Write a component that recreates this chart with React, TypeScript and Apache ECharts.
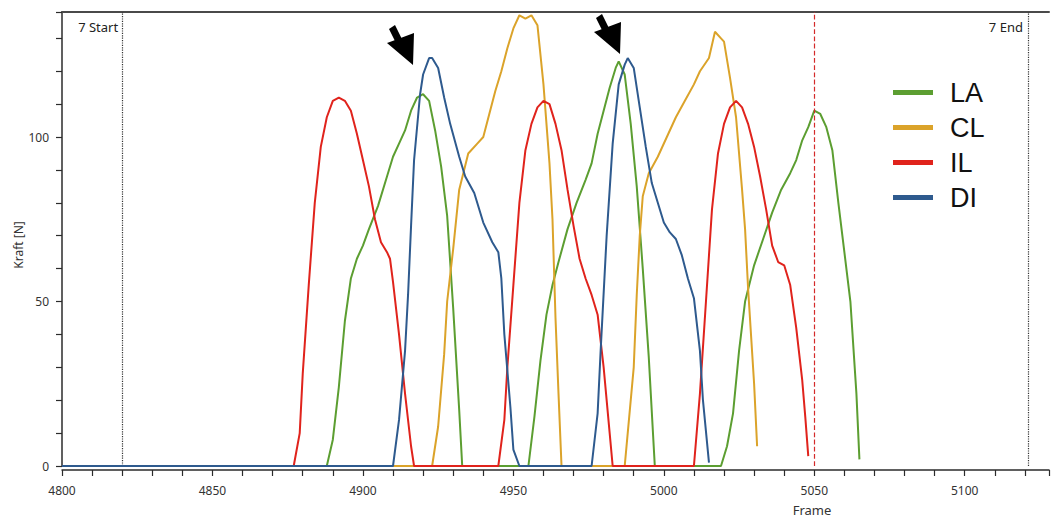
import React, { useEffect, useRef } from "react";
import * as echarts from "echarts";

const SERIES_NAMES = ["LA", "CL", "IL", "DI"];
const SERIES_COLORS = ["#5c9e31", "#dba32a", "#e0231c", "#2e5a8e"];

const LA: number[][] = [
  [4800, 0], [4888, 0], [4890, 8], [4892, 24], [4894, 44], [4896, 57], [4898, 63], [4900, 67], [4902, 72],
  [4905, 79], [4908, 88], [4910, 94], [4912, 98], [4914, 102], [4916, 108], [4918, 112], [4920, 113],
  [4922, 111], [4924, 102], [4926, 91], [4928, 76], [4930, 48], [4932, 17], [4933, 0],
  [4955, 0], [4957, 15], [4959, 32], [4961, 46], [4963, 55], [4965, 62], [4968, 72], [4971, 80], [4974, 87],
  [4976, 92], [4978, 101], [4980, 108], [4982, 115], [4984, 121], [4985, 123], [4987, 119], [4989, 104],
  [4991, 85], [4993, 60], [4995, 33], [4997, 0],
  [5019, 0], [5021, 6], [5023, 16], [5025, 35], [5027, 50], [5030, 61], [5033, 69], [5036, 77], [5039, 84],
  [5042, 89], [5044, 93], [5046, 99], [5048, 103], [5050, 108], [5052, 107], [5054, 103], [5056, 96],
  [5058, 80], [5060, 65], [5062, 50], [5064, 22], [5065, 2],
];

const CL: number[][] = [
  [4800, 0], [4923, 0], [4925, 12], [4927, 34], [4928, 50], [4930, 66], [4932, 84], [4935, 95], [4938, 98],
  [4940, 100], [4942, 107], [4944, 114], [4946, 120], [4948, 127], [4950, 133], [4952, 137], [4954, 136],
  [4956, 137], [4958, 134], [4960, 116], [4962, 92], [4963, 75], [4964, 45], [4965, 22], [4966, 0],
  [4987, 0], [4988, 10], [4990, 30], [4991, 52], [4992, 70], [4993, 82], [4995, 89], [4998, 94], [5001, 100],
  [5004, 106], [5007, 111], [5010, 116], [5012, 120], [5015, 124], [5017, 132], [5019, 130], [5020, 129],
  [5022, 118], [5024, 106], [5026, 84], [5027, 72], [5028, 54], [5030, 25], [5031, 6],
];

const IL: number[][] = [
  [4800, 0], [4877, 0], [4879, 10], [4880, 28], [4882, 55], [4884, 80], [4886, 97], [4888, 106], [4890, 111],
  [4892, 112], [4894, 111], [4896, 108], [4898, 101], [4900, 93], [4902, 85], [4904, 75], [4906, 68],
  [4908, 65], [4909, 63], [4910, 56], [4912, 40], [4914, 22], [4916, 6], [4917, 0],
  [4945, 0], [4947, 14], [4948, 30], [4950, 55], [4952, 80], [4954, 96], [4956, 104], [4958, 109], [4960, 111],
  [4962, 110], [4964, 104], [4966, 96], [4968, 84], [4970, 73], [4972, 63], [4974, 57], [4976, 52],
  [4978, 46], [4980, 30], [4982, 10], [4983, 0],
  [5010, 0], [5012, 22], [5014, 50], [5016, 78], [5018, 95], [5020, 104], [5022, 109], [5024, 111],
  [5026, 109], [5028, 104], [5030, 97], [5032, 88], [5034, 78], [5036, 67], [5038, 62], [5040, 61],
  [5042, 55], [5044, 42], [5046, 26], [5047, 15], [5048, 3],
];

const DI: number[][] = [
  [4800, 0], [4910, 0], [4912, 14], [4914, 35], [4915, 52], [4916, 73], [4917, 93], [4919, 113], [4920, 119],
  [4922, 124], [4923, 124], [4925, 121], [4927, 112], [4929, 104], [4932, 94], [4934, 88], [4937, 83],
  [4940, 74], [4943, 68], [4945, 65], [4946, 57], [4947, 40], [4949, 18], [4950, 5], [4952, 0],
  [4976, 0], [4978, 16], [4979, 35], [4981, 70], [4983, 98], [4985, 116], [4987, 122], [4988, 124],
  [4990, 121], [4992, 109], [4994, 97], [4996, 86], [4998, 80], [5000, 74], [5002, 71], [5004, 69],
  [5006, 64], [5008, 57], [5010, 51], [5012, 35], [5013, 20], [5015, 1],
];

const SERIES_DATA = [LA, CL, IL, DI];

const X_TICK_LABELS = [4800, 4850, 4900, 4950, 5000, 5050, 5100];
const Y_TICK_LABELS = [0, 50, 100];
const START_FRAME = 4820;
const END_FRAME = 5121;
const CURSOR_FRAME = 5050;
const START_LABEL = "7 Start";
const END_LABEL = "7 End";
const X_NAME = "Frame";
const Y_NAME = "Kraft [N]";

const FONT = '"Noto Sans", "DejaVu Sans", sans-serif';

export default function App() {
  const ref = useRef<HTMLDivElement>(null);
  useEffect(() => {
    const el = ref.current!;
    const chart = echarts.init(el, null, { renderer: "svg" });
    const axisLineStyle = { color: "#2b2b2b", width: 1.5 };
    chart.setOption({
      animation: false,
      backgroundColor: "#ffffff",
      grid: { left: 62, right: 0, top: 12, bottom: 52, containLabel: false },
      legend: {
        data: SERIES_NAMES,
        orient: "vertical",
        left: 893,
        top: 79,
        padding: 0,
        itemWidth: 40,
        itemHeight: 5,
        itemGap: 8,
        icon: "rect",
        textStyle: {
          fontFamily: '"Liberation Sans", Arial, sans-serif',
          fontSize: 27,
          color: "#111",
          padding: [0, 0, 0, 12],
        },
      },
      xAxis: [
        {
          type: "value",
          min: 4800,
          max: 5128,
          interval: 10,
          offset: 4,
          axisLine: { onZero: false, lineStyle: axisLineStyle },
          axisTick: { length: 6, lineStyle: { color: "#2b2b2b", width: 1.2 } },
          axisLabel: {
            margin: 14,
            fontFamily: FONT,
            fontSize: 12,
            color: "#333",
            formatter: (v: number) => (X_TICK_LABELS.includes(v) ? String(v) : ""),
          },
          splitLine: { show: false },
        },
        {
          type: "value",
          position: "top",
          min: 4800,
          max: 5128,
          axisLine: { show: true, onZero: false, lineStyle: { color: "#4a4a4a", width: 2 } },
          axisTick: { show: false },
          axisLabel: { show: false },
          splitLine: { show: false },
        },
      ],
      yAxis: {
        type: "value",
        min: 0,
        max: 138,
        interval: 10,
        axisLine: { show: true, lineStyle: axisLineStyle },
        axisTick: { show: true, length: 6, lineStyle: { color: "#2b2b2b", width: 1.2 } },
        axisLabel: {
          margin: 13,
          fontFamily: FONT,
          fontSize: 12,
          color: "#333",
          formatter: (v: number) => (Y_TICK_LABELS.includes(v) ? String(v) : ""),
        },
        splitLine: { show: false },
      },
      series: SERIES_NAMES.map((name, i) => ({
        name,
        type: "line",
        data: SERIES_DATA[i],
        showSymbol: false,
        symbol: "none",
        color: SERIES_COLORS[i],
        lineStyle: { width: 2, color: SERIES_COLORS[i] },
        xAxisIndex: 0,
        z: 2 + i,
        markLine:
          i === 0
            ? {
                silent: true,
                symbol: "none",
                label: { show: false },
                data: [
                  { xAxis: START_FRAME, lineStyle: { color: "#333333", type: "dotted", width: 1.2 } },
                  { xAxis: END_FRAME, lineStyle: { color: "#333333", type: "dotted", width: 1.2 } },
                  { xAxis: CURSOR_FRAME, lineStyle: { color: "#d42a2a", type: "dashed", width: 1.2, opacity: 1 } },
                ],
              }
            : undefined,
      })),
    });

    const px = (f: number) => chart.convertToPixel({ xAxisIndex: 0 }, f) as number;
    const arrowShape = [
      [389, 29], [395, 25], [401.3, 37.7], [414, 33], [413, 65], [387, 43], [394.6, 40.2],
    ];
    const arrow2 = arrowShape.map(([x, y]) => [x + 207, y - 11]);
    chart.setOption({
      graphic: [
        {
          type: "text",
          x: px(START_FRAME) - 4,
          y: 27,
          style: { text: START_LABEL, align: "right", verticalAlign: "middle", fontFamily: FONT, fontSize: 13, fill: "#222" },
        },
        {
          type: "text",
          x: px(END_FRAME) - 5,
          y: 27,
          style: { text: END_LABEL, align: "right", verticalAlign: "middle", fontFamily: FONT, fontSize: 13, fill: "#222" },
        },
        {
          type: "text",
          x: 812,
          y: 510,
          style: { text: X_NAME, align: "center", verticalAlign: "middle", fontFamily: FONT, fontSize: 13, fill: "#333" },
        },
        {
          type: "text",
          x: 18,
          y: 245,
          rotation: Math.PI / 2,
          style: { text: Y_NAME, align: "center", verticalAlign: "middle", fontFamily: FONT, fontSize: 12, fill: "#333" },
        },
        { type: "polygon", shape: { points: arrowShape }, style: { fill: "#000" }, z: 100 },
        { type: "polygon", shape: { points: arrow2 }, style: { fill: "#000" }, z: 100 },
      ],
    });
    return () => chart.dispose();
  }, []);
  return (
    <div
      ref={ref}
      style={{ position: "fixed", left: 0, top: 0, width: 1052, height: 518, background: "#fff" }}
    />
  );
}
